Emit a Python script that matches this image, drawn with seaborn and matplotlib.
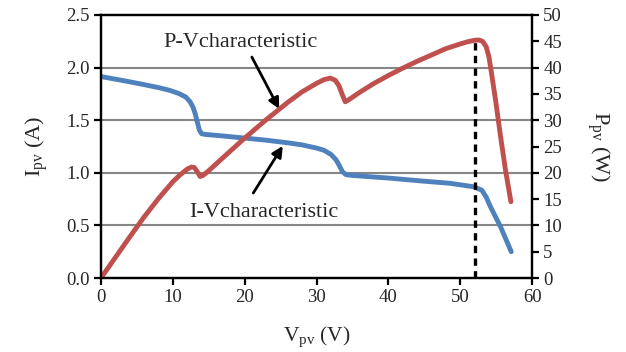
import matplotlib
matplotlib.use("Agg")
import matplotlib.pyplot as plt
import seaborn as sns
import pandas as pd

# I-V characteristic (V, A)
iv_voltage = [0, 2, 4, 6, 8, 9.5, 10.8, 11.8, 12.4, 12.8, 13.1, 13.4, 13.7, 14.0, 14.5,
              17, 20, 23, 26, 28, 30, 31, 32, 32.7, 33.2, 33.6, 34.1, 35, 40, 45,
              48.6, 51.8, 53.0, 53.6, 54.2, 55.6, 57.1]
iv_current = [1.915, 1.89, 1.865, 1.838, 1.81, 1.785, 1.755, 1.72, 1.675, 1.625, 1.565,
              1.485, 1.405, 1.372, 1.365, 1.35, 1.33, 1.31, 1.285, 1.265, 1.235, 1.215,
              1.175, 1.125, 1.065, 1.01, 0.982, 0.975, 0.95, 0.92, 0.90, 0.868, 0.835,
              0.77, 0.678, 0.488, 0.25]

# P-V characteristic (V, W)
pv_voltage = [0, 2, 4, 6, 8, 10, 11, 12, 12.6, 13.0, 13.4, 13.8, 14.2, 15, 17,
              20, 23, 26, 28, 30, 31, 31.9, 32.6, 33.1, 33.6, 34.0, 34.5, 36, 38, 40, 42,
              44, 46, 48, 50, 51, 52, 52.6, 53.1, 53.6, 54.0, 54.4, 55, 55.6, 56.3, 57.05]
pv_power = [0, 3.9, 7.8, 11.6, 15.1, 18.3, 19.6, 20.7, 21.1, 21.0, 20.2, 19.3, 19.5,
            20.4, 22.9, 26.6, 30.1, 33.4, 35.4, 37.0, 37.7, 38.0, 37.6, 36.6, 34.8, 33.5,
            33.9, 35.3, 37.0, 38.5, 39.9, 41.2, 42.4, 43.6, 44.5, 44.9, 45.2, 45.25, 45.0,
            44.0, 42.0, 38.5, 33.0, 27.0, 20.5, 14.5]

mpp_voltage = 52.0
mpp_power = 45.2

x_ticks = [0, 10, 20, 30, 40, 50, 60]
left_ticks = [0.0, 0.5, 1.0, 1.5, 2.0, 2.5]
right_ticks = [0, 5, 10, 15, 20, 25, 30, 35, 40, 45, 50]

sns.set_theme(style="white")
plt.rcParams["font.family"] = ["Liberation Serif", "DejaVu Serif"]
plt.rcParams["mathtext.fontset"] = "custom"
plt.rcParams["mathtext.rm"] = "Liberation Serif"
plt.rcParams["mathtext.it"] = "Liberation Serif:italic"

blue = "#4F81BD"
red = "#C0504D"

fig = plt.figure(figsize=(6.26, 3.52), dpi=100)
ax = fig.add_axes([0.1613, 0.2102, 0.6887, 0.7472])
ax2 = ax.twinx()

iv_df = pd.DataFrame({"V": iv_voltage, "I": iv_current})
pv_df = pd.DataFrame({"V": pv_voltage, "P": pv_power})

ax.set_xlim(0, 60)
ax.set_ylim(0, 2.5)
ax2.set_ylim(0, 50)

for y in left_ticks[1:-1]:
    ax.axhline(y, color="#868686", lw=1.5, zorder=0)

sns.lineplot(data=iv_df, x="V", y="I", ax=ax, color=blue, lw=3.5,
             solid_capstyle="round", solid_joinstyle="round", sort=False)
sns.lineplot(data=pv_df, x="V", y="P", ax=ax2, color=red, lw=3.5,
             solid_capstyle="round", solid_joinstyle="round", sort=False)
ax2.vlines(mpp_voltage, 0, mpp_power, colors="black", linestyles=(0, (2.2, 1.6)), lw=2.4)

ax.set_xticks(x_ticks)
ax.set_yticks(left_ticks)
ax.set_yticklabels([f"{v:.1f}" for v in left_ticks])
ax2.set_yticks(right_ticks)

ax.set_xlabel(r"V$_{\mathrm{pv}}$ (V)", fontsize=15.5, labelpad=13)
ax.set_ylabel(r"I$_{\mathrm{pv}}$ (A)", fontsize=16, labelpad=12)
ax2.set_ylabel(r"P$_{\mathrm{pv}}$ (W)", fontsize=16, rotation=270, labelpad=36)
ax2.set_xlabel("")

for a in (ax, ax2):
    for s in a.spines.values():
        s.set_color("black")
        s.set_linewidth(1.6)
    a.tick_params(axis="both", which="major", labelsize=13.5, direction="out",
                  length=5, width=1.6, color="black", pad=3)
ax.tick_params(axis="y", left=True, right=False)
ax.tick_params(axis="x", bottom=True, top=False)
ax2.tick_params(axis="y", right=True, left=False)
ax.grid(False)
ax2.grid(False)

arrow_style = dict(arrowstyle="-|>", color="black", lw=2, mutation_scale=16,
                   shrinkA=0, shrinkB=0)
ax.text(19.4, 2.24, "P-Vcharacteristic", fontsize=16, ha="center", va="center")
ax.annotate("", xy=(24.8, 1.607), xytext=(21.0, 2.10), arrowprops=arrow_style)
ax.text(22.7, 0.627, "I-Vcharacteristic", fontsize=16, ha="center", va="center")
ax.annotate("", xy=(25.3, 1.255), xytext=(21.2, 0.808), arrowprops=arrow_style)

fig.savefig("out.png", dpi=100)
